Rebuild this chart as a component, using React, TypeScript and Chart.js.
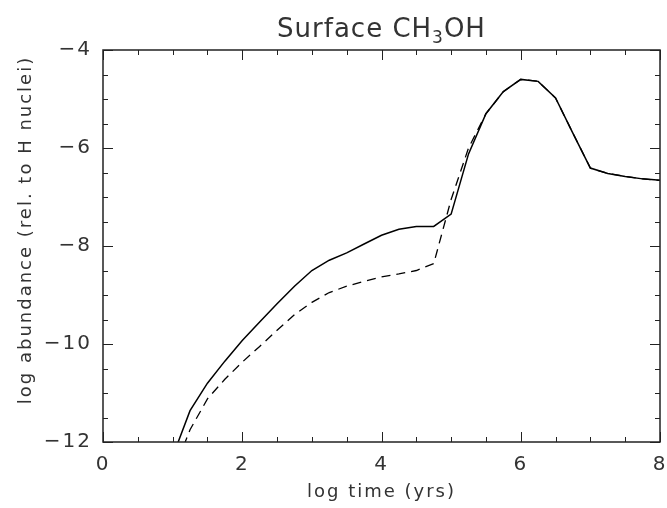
import React, { useEffect, useRef } from "react";
import { Chart, registerables } from "chart.js";

Chart.register(...registerables);

const logTime = [1, 1.25, 1.5, 1.75, 2, 2.25, 2.5, 2.75, 3, 3.25, 3.5, 3.75, 4, 4.25, 4.5, 4.75, 5, 5.25, 5.5, 5.75, 6, 6.25, 6.5, 6.75, 7, 7.25, 7.5, 7.75, 8];
const solidAbund = [-12.3, -11.36, -10.8, -10.35, -9.93, -9.55, -9.18, -8.82, -8.5, -8.29, -8.14, -7.96, -7.78, -7.66, -7.6, -7.6, -7.35, -6.12, -5.3, -4.85, -4.6, -4.64, -4.98, -5.7, -6.41, -6.52, -6.58, -6.63, -6.66];
const dashedAbund = [-12.65, -11.75, -11.12, -10.72, -10.37, -10.05, -9.72, -9.4, -9.15, -8.95, -8.82, -8.72, -8.63, -8.57, -8.5, -8.36, -7.05, -6.0, -5.3, -4.85, -4.6, -4.64, -4.98, -5.7, -6.41, -6.52, -6.58, -6.63, -6.66];
const xTicks = [0, 2, 4, 6, 8];
const yTicks = [-12, -10, -8, -6, -4];
const titleMain = "Surface CH";
const titleSub = "3";
const titleEnd = "OH";
const xTitle = "log time (yrs)";
const yTitle = "log abundance (rel. to H nuclei)";

const FONT = "'DejaVu Sans', sans-serif";
const INK = "#333";
const SPACING = "2px";

const framePlugin = {
  id: "idlFrame",
  beforeUpdate(chart: any) {
    chart.ctx.letterSpacing = SPACING;
  },
  beforeDraw(chart: any) {
    chart.ctx.letterSpacing = SPACING;
  },
  afterDraw(chart: any) {
    const { ctx, chartArea } = chart;
    const xs = chart.scales.x;
    const ys = chart.scales.y;
    const { left, right, top, bottom } = chartArea;
    ctx.save();
    ctx.strokeStyle = "#222";
    ctx.lineWidth = 1.5;
    ctx.strokeRect(left, top, right - left, bottom - top);
    ctx.lineWidth = 1;
    for (let v = xs.min; v <= xs.max + 1e-9; v += 0.5) {
      const p = Math.round(xs.getPixelForValue(v)) + 0.5;
      const major = xTicks.includes(v);
      const len = major ? 10 : 5;
      ctx.beginPath();
      ctx.moveTo(p, bottom);
      ctx.lineTo(p, bottom - len);
      ctx.moveTo(p, top);
      ctx.lineTo(p, top + len);
      ctx.stroke();
    }
    for (let v = ys.min; v <= ys.max + 1e-9; v += 0.5) {
      const p = Math.round(ys.getPixelForValue(v)) + 0.5;
      const major = yTicks.includes(v);
      const len = major ? 10 : 5;
      ctx.beginPath();
      ctx.moveTo(left, p);
      ctx.lineTo(left + len, p);
      ctx.moveTo(right, p);
      ctx.lineTo(right - len, p);
      ctx.stroke();
    }
    // title with subscript
    const cx = (left + right) / 2;
    ctx.fillStyle = INK;
    ctx.textBaseline = "alphabetic";
    ctx.textAlign = "left";
    ctx.letterSpacing = "1px";
    const big = "26px " + FONT;
    const small = "17px " + FONT;
    ctx.font = big;
    const w1 = ctx.measureText(titleMain).width;
    const w3 = ctx.measureText(titleEnd).width;
    ctx.font = small;
    const w2 = ctx.measureText(titleSub).width;
    const total = w1 + w2 + w3;
    const x0 = cx - total / 2;
    const base = 37;
    ctx.font = big;
    ctx.fillText(titleMain, x0, base);
    ctx.font = small;
    ctx.fillText(titleSub, x0 + w1, base + 6);
    ctx.font = big;
    ctx.fillText(titleEnd, x0 + w1 + w2, base);
    // y axis title
    ctx.letterSpacing = SPACING;
    ctx.font = "18px " + FONT;
    ctx.translate(31, 230);
    ctx.rotate(-Math.PI / 2);
    ctx.textAlign = "center";
    ctx.fillText(yTitle, 0, 0);
    ctx.restore();
  },
};

export default function App() {
  const ref = useRef<HTMLCanvasElement>(null);
  useEffect(() => {
    if (!ref.current) return;
    const fmt = (v: any) => {
      const n = Number(v);
      return n < 0 ? "\u2212" + Math.abs(n) : String(n);
    };
    const chart = new Chart(ref.current, {
      type: "line",
      data: {
        datasets: [
          {
            label: "solid",
            data: logTime.map((t, i) => ({ x: t, y: solidAbund[i] })),
            borderColor: "#000",
            borderWidth: 1.5,
            pointRadius: 0,
            tension: 0,
          },
          {
            label: "dashed",
            data: logTime.map((t, i) => ({ x: t, y: dashedAbund[i] })),
            borderColor: "#000",
            borderWidth: 1.3,
            borderDash: [9, 6],
            pointRadius: 0,
            tension: 0,
          },
        ],
      },
      options: {
        animation: false,
        responsive: false,
        maintainAspectRatio: false,
        layout: { padding: { left: 0, right: 7, top: 50, bottom: 0 } },
        plugins: { legend: { display: false }, tooltip: { enabled: false }, title: { display: false } },
        scales: {
          x: {
            type: "linear",
            min: 0,
            max: 8,
            afterBuildTicks: (s: any) => {
              s.ticks = xTicks.map((v) => ({ value: v }));
            },
            afterFit: (s: any) => {
              s.height = 66;
              s.paddingLeft = 0;
              s.paddingRight = 0;
            },
            grid: { display: false, drawTicks: false },
            border: { display: false },
            ticks: { color: INK, font: { family: FONT, size: 20 }, padding: 11, callback: fmt, maxRotation: 0 },
            title: { display: true, text: xTitle, color: INK, font: { family: FONT, size: 18 }, padding: { top: 0, bottom: 5 } },
          },
          y: {
            type: "linear",
            min: -12,
            max: -4,
            afterBuildTicks: (s: any) => {
              s.ticks = yTicks.map((v) => ({ value: v }));
            },
            afterFit: (s: any) => {
              s.width = 103;
              s.paddingTop = 0;
              s.paddingBottom = 0;
            },
            grid: { display: false, drawTicks: false },
            border: { display: false },
            ticks: { color: INK, font: { family: FONT, size: 20 }, padding: 11, callback: fmt },
            title: { display: false },
          },
        },
      },
      plugins: [framePlugin],
    });
    return () => chart.destroy();
  }, []);
  return (
    <div style={{ position: "absolute", left: 0, top: 0, width: 667, height: 508, background: "#fff" }}>
      <canvas ref={ref} width={667} height={508} style={{ width: 667, height: 508 }} />
    </div>
  );
}
